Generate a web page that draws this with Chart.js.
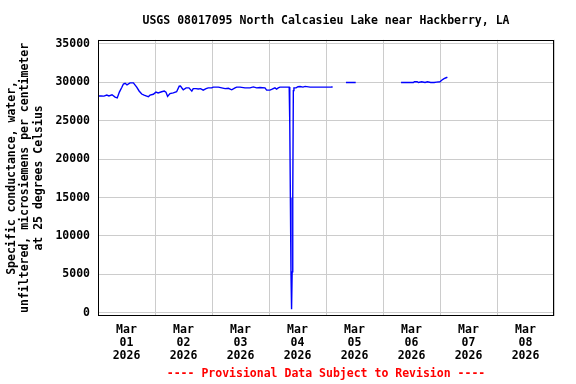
<!DOCTYPE html>
<html>
<head>
<meta charset="utf-8">
<script src="https://cdn.jsdelivr.net/npm/chart.js@4"></script>
<style>
  body { margin: 0; background: #fff; }
</style>
</head>
<body>
<canvas id="scChart" width="576" height="384"></canvas>
<script>
// hours since Mar 01 2026 00:00, null marks a gap in the record
const hours = [
  0, 1.3, 2.5, 3.7, 4.6, 5.9, 7.2, 8.1, 9.0, 10.0, 10.7, 11.4, 12.2, 13.5, 14.9, 16.3,
  17.3, 18.4, 19.4, 20.5, 21.2, 21.9, 23.3, 24.4, 25.3, 26.8, 27.9, 28.6, 29.3, 30.3,
  31.7, 33.1, 34.2, 34.7, 35.4, 35.9, 37.1, 38.3, 39.5, 40.1, 41.3, 42.2, 43.2, 44.3,
  45.5, 46.4, 47.9, 48.5, 50.7, 52.1, 53.5, 54.9, 56.3, 57.7, 58.4, 59.8, 61.9, 64.0,
  65.4, 66.8, 68.2, 70.3, 71.0, 72.4, 73.1, 74.5, 75.2, 75.9, 76.6, 78.7, 80.5,
  80.75, 81.0, 81.25, 81.5, 81.75, 82.0, 82.25, 82.5, 83.4, 84.2, 85.1, 86.3, 87.2,
  89.3, 98.2, 98.5,
  101,
  104.4, 108.5,
  115,
  127.6, 132.8, 133.2, 134.4, 134.9, 136.3, 137.7, 138.7, 140.1, 141.5, 142.5, 144.0,
  144.7, 145.7, 146.8, 147.1
];
const conductance = [
  28200, 28200, 28180, 28320, 28200, 28350, 28050, 27950, 28700, 29300, 29750, 29850, 29650, 29900, 29900, 29350,
  28850, 28450, 28300, 28180, 28100, 28300, 28420, 28700, 28600, 28750, 28830, 28700, 28150, 28500,
  28600, 28750, 29470, 29500, 29200, 29000, 29250, 29250, 28830, 29150, 29150, 29100, 29150, 28960,
  29150, 29250, 29250, 29350, 29350, 29250, 29150, 29200, 29000, 29250, 29350, 29350, 29250, 29250,
  29380, 29250, 29300, 29250, 28960, 28960, 29050, 29250, 29100, 29250, 29350, 29350, 29350,
  24550, 14970, 5340, 470, 5340, 14970, 28900, 29250, 29250, 29400, 29430, 29350, 29450,
  29350, 29350, 29450,
  null,
  29950, 29950,
  null,
  29950, 29950, 30050, 30050, 29950, 30050, 29950, 30050, 29950, 29950, 30000, 30050,
  30250, 30450, 30600, 30650
];

const dayLabels = [
  ['Mar', '01', '2026'], ['Mar', '02', '2026'], ['Mar', '03', '2026'], ['Mar', '04', '2026'],
  ['Mar', '05', '2026'], ['Mar', '06', '2026'], ['Mar', '07', '2026'], ['Mar', '08', '2026']
];
const yTicks = [0, 5000, 10000, 15000, 20000, 25000, 30000, 35000];

const monoFont = { family: "'DejaVu Sans Mono', monospace", weight: 'bold', size: 11.5 };

// black box round the plot area
const frame = {
  id: 'frame',
  afterDatasetsDraw(chart) {
    const { ctx, chartArea } = chart;
    ctx.save();
    ctx.strokeStyle = '#000';
    ctx.lineWidth = 1;
    ctx.strokeRect(Math.round(chartArea.left) + 0.5, Math.round(chartArea.top) + 0.5,
      Math.round(chartArea.width) - 1, Math.round(chartArea.height) - 1);
    ctx.restore();
  }
};

new Chart(document.getElementById('scChart'), {
  type: 'line',
  data: {
    datasets: [{
      data: hours.map((h, i) => ({ x: h, y: conductance[i] })),
      borderColor: '#0000ff',
      borderWidth: 1.4,
      pointRadius: 0,
      tension: 0,
      spanGaps: false
    }]
  },
  options: {
    responsive: false,
    animation: false,
    layout: { padding: { left: 0, right: 22, top: 0, bottom: 0 } },
    plugins: {
      legend: { display: false },
      tooltip: { enabled: false },
      title: {
        display: true,
        fullSize: false,
        text: 'USGS 08017095 North Calcasieu Lake near Hackberry, LA',
        color: '#000',
        font: monoFont,
        padding: { top: 14, bottom: 12 }
      }
    },
    scales: {
      x: {
        type: 'linear',
        min: 0,
        max: 192,
        afterBuildTicks: scale => {
          scale.ticks = [];
          for (let v = 0; v <= 192; v += 12) scale.ticks.push({ value: v });
        },
        afterFit: scale => { scale.height = 68; },
        grid: {
          drawTicks: false,
          color: ctx => (ctx.tick && ctx.tick.value % 24 === 0) ? '#cccccc' : 'rgba(0,0,0,0)'
        },
        border: { display: false },
        ticks: {
          autoSkip: false,
          maxRotation: 0,
          padding: 7.5,
          color: '#000',
          font: Object.assign({ lineHeight: '13px' }, monoFont),
          callback: v => (v % 24 === 12) ? dayLabels[(v - 12) / 24] : ''
        },
        title: {
          display: true,
          text: '---- Provisional Data Subject to Revision ----',
          color: '#ff0000',
          font: Object.assign({ lineHeight: '13px' }, monoFont),
          padding: { top: 0, bottom: 3 }
        }
      },
      y: {
        min: -400,
        max: 35500,
        afterBuildTicks: scale => { scale.ticks = yTicks.map(v => ({ value: v })); },
        afterFit: scale => { scale.width = 98; },
        grid: { drawTicks: false, color: '#cccccc' },
        border: { display: false },
        ticks: {
          padding: 8,
          color: '#000',
          font: monoFont,
          callback: v => String(v)
        },
        title: {
          display: true,
          text: ['Specific conductance, water,', 'unfiltered, microsiemens per centimeter', 'at 25 degrees Celsius'],
          color: '#000',
          font: Object.assign({ lineHeight: '13.5px' }, monoFont),
          padding: { top: 5, bottom: 0 }
        }
      }
    }
  },
  plugins: [frame]
});
</script>
</body>
</html>
